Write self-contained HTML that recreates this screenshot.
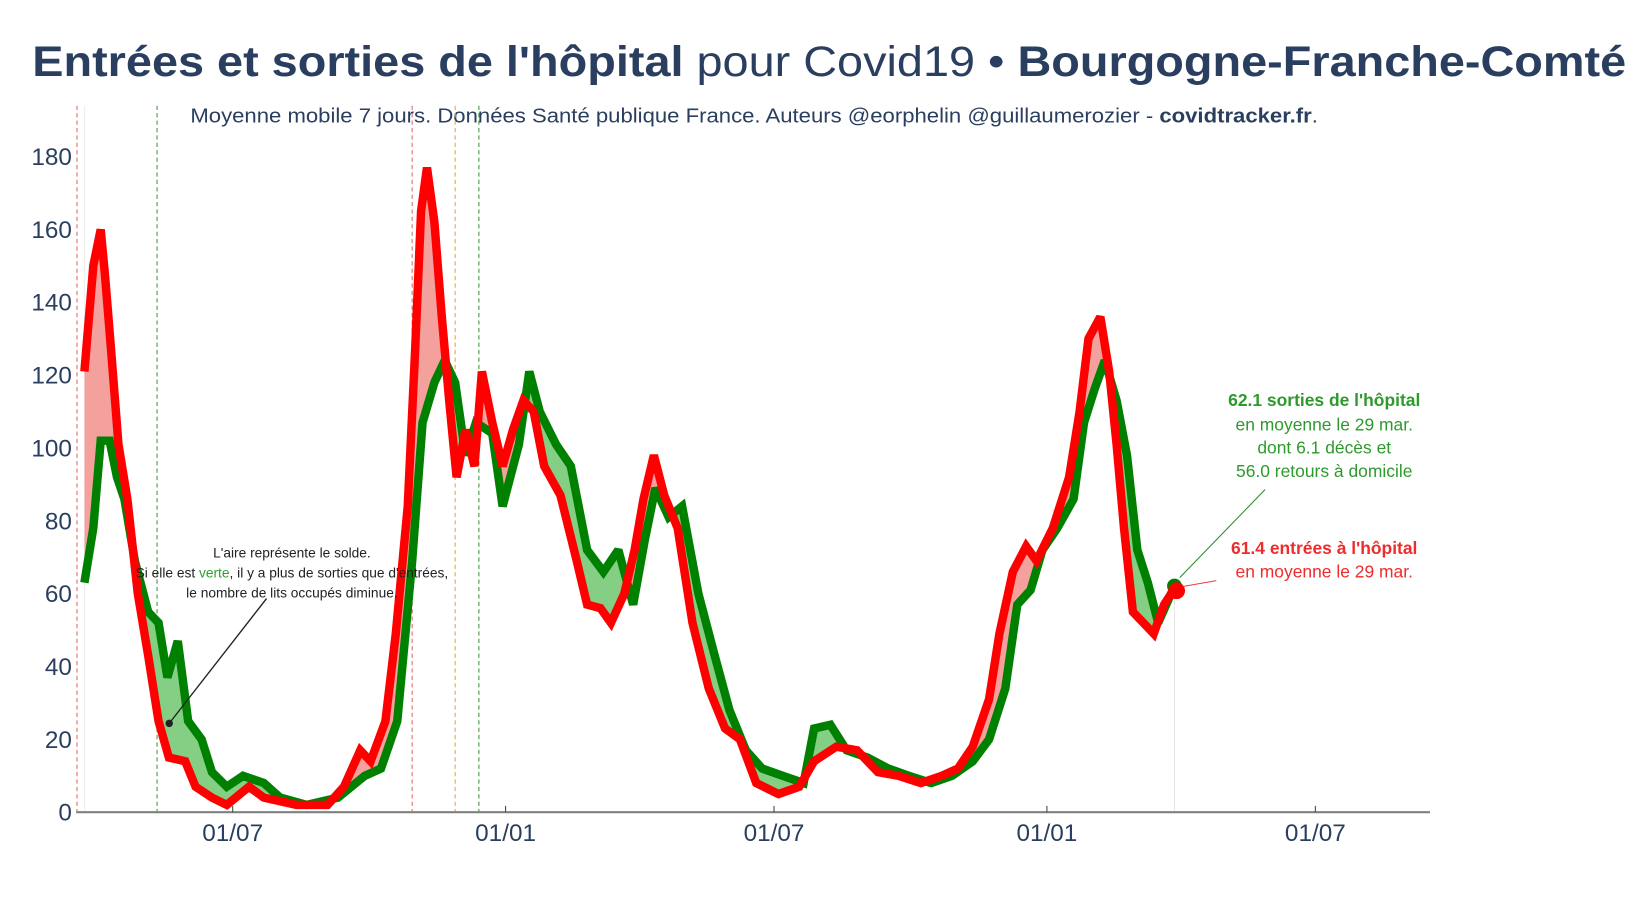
<!DOCTYPE html>
<html><head><meta charset="utf-8">
<style>
html,body{margin:0;padding:0;background:#fff;}
svg{display:block;}
text{font-family:"Liberation Sans",sans-serif;}
</style></head>
<body>
<svg id="chart" width="1650" height="900" viewBox="0 0 1560 851" preserveAspectRatio="none" xmlns="http://www.w3.org/2000/svg">
<text x="784" y="72" text-anchor="middle" font-size="40" fill="#2a3f5f" textLength="1507" lengthAdjust="spacingAndGlyphs"><tspan font-weight="bold">Entrées et sorties de l'hôpital</tspan> pour Covid19 • <tspan font-weight="bold">Bourgogne-Franche-Comté</tspan></text>
<text x="713" y="116" text-anchor="middle" font-size="19" fill="#2a3f5f" textLength="1066" lengthAdjust="spacingAndGlyphs">Moyenne mobile 7 jours. Données Santé publique France. Auteurs @eorphelin @guillaumerozier - <tspan font-weight="bold">covidtracker.fr</tspan>.</text>
<g id="marks"></g>
</svg>
<script>
// entries (red) : day offsets from 2020-07-01 and values
const entreesDays = [-100,-94,-89,-86,-82,-77,-71,-64,-57,-50,-43,-32,-25,-14,-4,11,21,43,64,75,86,93,103,110,118,123,127,131,136,141,146,151,157,163,168,175,182,189,196,203,210,221,232,239,248,255,264,271,277,284,291,300,310,321,332,342,353,368,382,392,407,421,435,449,464,478,489,499,510,517,526,535,542,553,564,571,577,585,591,596,601,607,614,621,628,635];
const entreesValues = [121,150,160,147,127,101,86,60,43,25,15,14,7,4,2,7,4,2,2,7,17,14,25,49,84,127,165,177,162,136,113,92,105,95,121,107,95,105,113,110,95,87,69,57,56,52,60,72,86,98,87,78,52,34,23,20,8,5,7,14,18,17,11,10,8,10,12,18,31,49,66,73,69,78,92,110,130,136,121,101,78,55,52,49,57,61.4];
// exits (green)
const sortiesDays = [-100,-94,-89,-83,-78,-73,-66,-57,-50,-44,-37,-30,-21,-14,-4,7,21,32,50,71,89,100,111,121,128,136,143,150,157,164,175,182,193,200,207,218,228,239,250,260,270,278,285,294,303,314,325,335,346,357,371,385,392,403,414,428,442,456,471,485,499,510,521,529,538,546,556,567,574,581,588,596,603,610,617,624,635];
const sortiesValues = [63,78,102,102,92,86,69,55,52,37,47,25,20,11,7,10,8,4,2,4,10,12,25,69,107,118,124,118,98,107,104,84,101,121,110,101,95,72,66,72,57,75,89,81,84,60,43,28,17,12,10,8,23,24,17,15,12,10,8,10,14,20,34,57,61,72,78,86,107,116,124,113,98,72,63,52,62.1];
const yTicks = [0,20,40,60,80,100,120,140,160,180];
const xTickDays = [0,184,365,549,730];
const xTickLabels = ["01/07","01/01","01/07","01/01","01/07"];
const vLineDays = [-105,-51,121,150,166];
const vLineColors = ["#e06666","#3a9a3a","#e06666","#f0a030","#3a9a3a"];

const NS="http://www.w3.org/2000/svg";
const X0=220, PXD=1.4022, Y0=768, PXV=3.444, L=72, R=1352;
const xs=d=>X0+d*PXD, ys=v=>Y0-v*PXV;
const g=document.getElementById('marks');
function mk(tag,attrs,parent){const e=document.createElementNS(NS,tag);for(const k in attrs)e.setAttribute(k,attrs[k]);(parent||g).appendChild(e);return e;}

vLineDays.forEach((d,i)=>{
  const l=mk('line',{x1:xs(d),x2:xs(d),y1:100,y2:Y0,stroke:vLineColors[i],'stroke-width':1,'stroke-dasharray':'4,3'});
  
  
});
mk('line',{x1:80,x2:80,y1:100,y2:Y0,stroke:'#eeeeee','stroke-width':1});
const lastD=entreesDays[entreesDays.length-1];
mk('line',{x1:xs(lastD),x2:xs(lastD),y1:ys(entreesValues[entreesValues.length-1]),y2:Y0,stroke:'#e6e6e6','stroke-width':1});

const ptsE=entreesDays.map((d,i)=>[xs(d),ys(entreesValues[i])]);
const ptsS=sortiesDays.map((d,i)=>[xs(d),ys(sortiesValues[i])]);
const ps=p=>p.map(q=>q[0].toFixed(1)+','+q[1].toFixed(1)).join(' ');
const defs=mk('defs',{});
const cpAboveE=mk('clipPath',{id:'aboveE'},defs);
mk('polygon',{points:ps([[ptsE[0][0],0],...ptsE,[ptsE[ptsE.length-1][0],0]])},cpAboveE);
const cpAboveS=mk('clipPath',{id:'aboveS'},defs);
mk('polygon',{points:ps([[ptsS[0][0],0],...ptsS,[ptsS[ptsS.length-1][0],0]])},cpAboveS);

const gf=mk('polygon',{points:ps([[ptsS[0][0],Y0],...ptsS,[ptsS[ptsS.length-1][0],Y0]]),fill:'#85cf85','clip-path':'url(#aboveE)'});


const rf=mk('polygon',{points:ps([[ptsE[0][0],Y0],...ptsE,[ptsE[ptsE.length-1][0],Y0]]),fill:'#f4a09c','clip-path':'url(#aboveS)'});



const sl=mk('polyline',{points:ps(ptsS),fill:'none',stroke:'#008000','stroke-width':8,'stroke-linejoin':'miter','stroke-miterlimit':2});


const el=mk('polyline',{points:ps(ptsE),fill:'none',stroke:'#ff0000','stroke-width':8,'stroke-linejoin':'miter','stroke-miterlimit':2});



const sE=ptsS[ptsS.length-1], eE=ptsE[ptsE.length-1];
const sm=mk('circle',{cx:sE[0],cy:sE[1],r:7,fill:'#008000'});


const em=mk('circle',{cx:eE[0]+2,cy:eE[1]+2,r:8,fill:'#ff0000'});



mk('line',{x1:L,x2:R,y1:Y0,y2:Y0,stroke:'#808080','stroke-width':2});
yTicks.forEach(v=>{
  const t=mk('text',{x:68,y:ys(v)+8,'text-anchor':'end','font-size':23,fill:'#2a3f5f'});
  t.textContent=v;
  
  
});
xTickDays.forEach((d,i)=>{
  mk('line',{x1:xs(d),x2:xs(d),y1:Y0-6,y2:Y0,stroke:'#444','stroke-width':1});
  const t=mk('text',{x:xs(d),y:795,'text-anchor':'middle','font-size':23,fill:'#2a3f5f'});
  t.textContent=xTickLabels[i];
  
  
});

mk('line',{x1:160,y1:684,x2:252,y2:566,stroke:'#222','stroke-width':1.3});
mk('circle',{cx:160,cy:684,r:3.5,fill:'#222'});
const la=[["L'aire représente le solde.",527],["Si elle est |verte|, il y a plus de sorties que d'entrées,",546],["le nombre de lits occupés diminue.",565]];
la.forEach(([s,y])=>{
  const t=mk('text',{x:276,y:y,'text-anchor':'middle','font-size':13,fill:'#222'});
  
  
  s.split('|').forEach((p,i)=>{const sp=mk('tspan',{},t);sp.textContent=p;if(i==1)sp.setAttribute('fill','#2ca02c');});
});

mk('line',{x1:sE[0]+5,y1:sE[1]-8,x2:1196,y2:463,stroke:'#2e8b2e','stroke-width':1});
mk('line',{x1:eE[0]+8,y1:eE[1]-2,x2:1150,y2:549,stroke:'#ef3b3b','stroke-width':1});
const ga=[["62.1 sorties de l'hôpital",384,true],["en moyenne le 29 mar.",407,false],["dont 6.1 décès et",429,false],["56.0 retours à domicile",451,false]];
ga.forEach(([s,y,b])=>{
  const t=mk('text',{x:1252,y:y,'text-anchor':'middle','font-size':16.5,fill:'#2e9a2e','font-weight':b?'bold':'normal'});
  t.textContent=s;
  
  
});
const ra=[["61.4 entrées à l'hôpital",524,true],["en moyenne le 29 mar.",546,false]];
ra.forEach(([s,y,b])=>{
  const t=mk('text',{x:1252,y:y,'text-anchor':'middle','font-size':16.5,fill:'#ef2b2b','font-weight':b?'bold':'normal'});
  t.textContent=s;
  
  
});
</script>
</body></html>
